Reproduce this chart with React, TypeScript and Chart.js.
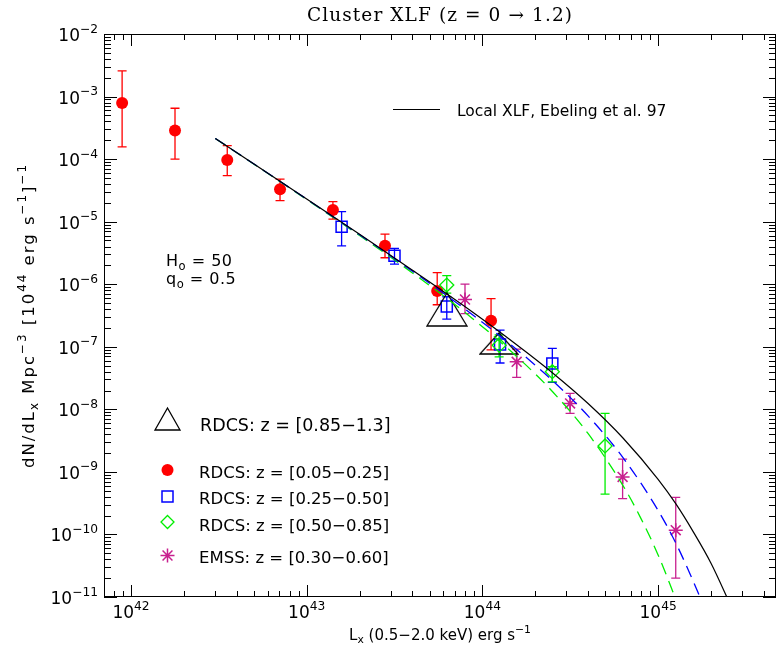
import React, { useEffect, useRef } from 'react';
import { Chart, registerables } from 'chart.js';

Chart.register(...registerables);

// ---------------- data ----------------
// RDCS z = [0.05-0.25]  (filled red circles)
const rdcsLowL = [8.9e41, 1.78e42, 3.53e42, 7.05e42, 1.41e43, 2.79e43, 5.53e43, 1.12e44];
const rdcsLowPhi = [7.9e-4, 2.86e-4, 9.7e-5, 3.3e-5, 1.54e-5, 4.13e-6, 7.8e-7, 2.6e-7];
const rdcsLowErrLo = [1.57e-4, 1.0e-4, 5.45e-5, 2.17e-5, 1.1e-5, 2.65e-6, 4.7e-7, 8.9e-8];
const rdcsLowErrHi = [2.58e-3, 6.5e-4, 1.64e-4, 4.8e-5, 2.09e-5, 6.3e-6, 1.53e-6, 5.9e-7];

// RDCS z = [0.25-0.50]  (open blue squares)
const rdcsMidL = [1.58e43, 3.16e43, 6.27e43, 1.26e44, 2.5e44];
const rdcsMidPhi = [8.3e-6, 2.86e-6, 4.4e-7, 1.09e-7, 5.4e-8];
const rdcsMidErrLo = [4.1e-6, 2.1e-6, 2.77e-7, 5.5e-8, 2.7e-8];
const rdcsMidErrHi = [1.45e-5, 3.75e-6, 6.3e-7, 1.85e-7, 9.4e-8];

// RDCS z = [0.50-0.85]  (open green diamonds)
const rdcsHighL = [6.27e43, 1.245e44, 2.5e44, 4.99e44];
const rdcsHighPhi = [9.7e-7, 1.06e-7, 4.0e-8, 2.6e-9];
const rdcsHighErrLo = [7.2e-7, 6.9e-8, 2.75e-8, 4.4e-10];
const rdcsHighErrHi = [1.37e-6, 1.55e-7, 4.8e-8, 8.6e-9];

// EMSS z = [0.30-0.60]  (magenta asterisks)
const emssL = [7.96e43, 1.567e44, 3.155e44, 6.28e44, 1.26e45];
const emssPhi = [5.7e-7, 5.75e-8, 1.24e-8, 8.3e-10, 1.17e-10];
const emssErrLo = [3.4e-7, 3.24e-8, 8.6e-9, 3.75e-10, 2.0e-11];
const emssErrHi = [1.0e-6, 9.2e-8, 1.8e-8, 1.6e-9, 3.9e-10];

// RDCS z = [0.85-1.3]  (open triangles)
const rdcsDistL = [6.28e43, 1.24e44];
const rdcsDistPhi = [3.95e-7, 1.13e-7];

// Local XLF, Ebeling et al. 97 (solid black)
const localL = [3.02e42, 5.01e42, 1e43, 2.0e43, 3.98e43, 7.94e43, 1.58e44, 2.51e44, 3.98e44, 6.31e44, 1e45, 1.26e45, 1.58e45, 2.0e45, 2.51e45, 2.63e45];
const localPhi = [2.14e-4, 8.34e-5, 2.31e-5, 6.31e-6, 1.69e-6, 4.4e-7, 1.06e-7, 3.82e-8, 1.25e-8, 3.48e-9, 7.6e-10, 3.1e-10, 1.12e-10, 3.47e-11, 8.85e-12, 6.6e-12];

// blue dashed model
const modelMidL = [3.02e42, 5.01e42, 1e43, 2.0e43, 3.98e43, 7.94e43, 1.58e44, 2.51e44, 3.98e44, 6.31e44, 1e45, 1.26e45, 1.58e45, 1.78e45];
const modelMidPhi = [2.14e-4, 8.34e-5, 2.29e-5, 6.18e-6, 1.63e-6, 4.03e-7, 8.87e-8, 2.87e-8, 7.92e-9, 1.69e-9, 2.42e-10, 7.33e-11, 1.82e-11, 8.3e-12];

// green dashed model
const modelHighL = [3.02e42, 5.01e42, 1e43, 2.0e43, 3.98e43, 7.94e43, 1.58e44, 2.51e44, 3.98e44, 6.31e44, 7.94e44, 1e45, 1.26e45];
const modelHighPhi = [2.14e-4, 8.3e-5, 2.26e-5, 6.01e-6, 1.53e-6, 3.55e-7, 6.87e-8, 1.91e-8, 4.15e-9, 6.05e-10, 1.86e-10, 4.71e-11, 9.3e-12];

// axis ticks (decade exponents)
const xDecades = [42, 43, 44, 45];
const yDecades = [-2, -3, -4, -5, -6, -7, -8, -9, -10, -11];

const titleText = 'Cluster XLF (z = 0 \u2192 1.2)';
const legendLabels = [
  'RDCS: z = [0.85\u22121.3]',
  'RDCS: z = [0.05\u22120.25]',
  'RDCS: z = [0.25\u22120.50]',
  'RDCS: z = [0.50\u22120.85]',
  'EMSS: z = [0.30\u22120.60]',
];
const localLabel = 'Local XLF, Ebeling et al. 97';

// ---------------- style ----------------
const RED = '#ff0000';
const BLUE = '#0000ff';
const GREEN = '#00ee00';
const MAGENTA = '#c8208f';
const SANS = '"DejaVu Sans", sans-serif';
const SERIF = '"DejaVu Serif", serif';

type Seg = { t: string; k?: 'sup' | 'sub' };

function drawRich(
  ctx: CanvasRenderingContext2D,
  segs: Seg[],
  x: number,
  y: number,
  size: number,
  family: string,
  align: 'left' | 'center' | 'right',
  ls = 0,
  color = '#000'
) {
  const small = size * 0.72;
  const anyCtx = ctx as any;
  const widths = segs.map((s) => {
    ctx.font = `${s.k ? small : size}px ${family}`;
    anyCtx.letterSpacing = ls + 'px';
    return ctx.measureText(s.t).width;
  });
  const total = widths.reduce((a, b) => a + b, 0);
  let cx = align === 'left' ? x : align === 'center' ? x - total / 2 : x - total;
  ctx.fillStyle = color;
  ctx.textAlign = 'left';
  ctx.textBaseline = 'alphabetic';
  segs.forEach((s, i) => {
    ctx.font = `${s.k ? small : size}px ${family}`;
    anyCtx.letterSpacing = ls + 'px';
    const dy = s.k === 'sup' ? -size * 0.5 : s.k === 'sub' ? size * 0.22 : 0;
    ctx.fillText(s.t, cx, y + dy);
    cx += widths[i];
  });
  anyCtx.letterSpacing = '0px';
}

function pts(xs: number[], ys: number[]) {
  return xs.map((x, i) => ({ x, y: ys[i] }));
}

function makeTriangle(w: number, h: number) {
  const c = document.createElement('canvas');
  c.width = w + 2;
  c.height = h + 2;
  const g = c.getContext('2d')!;
  g.strokeStyle = '#000';
  g.lineWidth = 1.3;
  g.beginPath();
  g.moveTo(1, h + 1);
  g.lineTo(w + 1, h + 1);
  g.lineTo(w / 2 + 1, 1);
  g.closePath();
  g.stroke();
  return c;
}

const errorSets: { L: number[]; lo: number[]; hi: number[]; color: string }[] = [
  { L: rdcsLowL, lo: rdcsLowErrLo, hi: rdcsLowErrHi, color: RED },
  { L: rdcsMidL, lo: rdcsMidErrLo, hi: rdcsMidErrHi, color: BLUE },
  { L: rdcsHighL, lo: rdcsHighErrLo, hi: rdcsHighErrHi, color: GREEN },
  { L: emssL, lo: emssErrLo, hi: emssErrHi, color: MAGENTA },
];

const errorBarPlugin = {
  id: 'errorBars',
  beforeDatasetsDraw(chart: any) {
    const { ctx } = chart;
    const xs = chart.scales.x;
    const ys = chart.scales.y;
    ctx.save();
    ctx.lineWidth = 1.3;
    errorSets.forEach((s) => {
      ctx.strokeStyle = s.color;
      s.L.forEach((L, i) => {
        const px = xs.getPixelForValue(L);
        const y1 = ys.getPixelForValue(s.lo[i]);
        const y2 = ys.getPixelForValue(s.hi[i]);
        ctx.beginPath();
        ctx.moveTo(px, y1);
        ctx.lineTo(px, y2);
        ctx.moveTo(px - 4.5, y1);
        ctx.lineTo(px + 4.5, y1);
        ctx.moveTo(px - 4.5, y2);
        ctx.lineTo(px + 4.5, y2);
        ctx.stroke();
      });
    });
    ctx.restore();
  },
};

const framePlugin = {
  id: 'frame',
  afterDraw(chart: any) {
    const { ctx, chartArea: a } = chart;
    const xs = chart.scales.x;
    const ys = chart.scales.y;
    ctx.save();
    ctx.strokeStyle = '#000';
    ctx.lineWidth = 1;
    ctx.strokeRect(a.left + 0.5, a.top + 0.5, a.right - a.left - 1, a.bottom - a.top - 1);

    // x ticks
    ctx.beginPath();
    for (let d = 41; d <= 45; d++) {
      for (let k = 1; k <= 9; k++) {
        const v = k * Math.pow(10, d);
        if (v < xs.min || v > xs.max) continue;
        const px = Math.round(xs.getPixelForValue(v)) + 0.5;
        const len = k === 1 ? 12 : 6;
        ctx.moveTo(px, a.bottom);
        ctx.lineTo(px, a.bottom - len);
        ctx.moveTo(px, a.top);
        ctx.lineTo(px, a.top + len);
      }
    }
    // y ticks
    for (let d = -12; d <= -2; d++) {
      for (let k = 1; k <= 9; k++) {
        const v = k * Math.pow(10, d);
        if (v < ys.min * 0.999 || v > ys.max * 1.001) continue;
        const py = Math.round(ys.getPixelForValue(v)) + 0.5;
        const len = k === 1 ? 13 : 7;
        ctx.moveTo(a.left, py);
        ctx.lineTo(a.left + len, py);
        ctx.moveTo(a.right, py);
        ctx.lineTo(a.right - len, py);
      }
    }
    ctx.stroke();

    // tick labels
    xDecades.forEach((d) => {
      const px = xs.getPixelForValue(Math.pow(10, d));
      drawRich(ctx, [{ t: '10' }, { t: String(d), k: 'sup' }], px, 618, 17, SANS, 'center');
    });
    yDecades.forEach((d) => {
      const py = ys.getPixelForValue(Math.pow(10, d));
      drawRich(ctx, [{ t: '10' }, { t: '\u2212' + String(-d), k: 'sup' }], 98, py + 7, 17, SANS, 'right');
    });

    // title
    drawRich(ctx, [{ t: titleText }], (a.left + a.right) / 2, 21, 18.5, SERIF, 'center', 1.1);

    // x title
    drawRich(
      ctx,
      [{ t: 'L' }, { t: 'x', k: 'sub' }, { t: ' (0.5\u22122.0 keV) erg s' }, { t: '\u22121', k: 'sup' }],
      (a.left + a.right) / 2,
      640,
      15,
      SANS,
      'center'
    );

    // y title (rotated)
    ctx.save();
    ctx.translate(34, (a.top + a.bottom) / 2);
    ctx.rotate(-Math.PI / 2);
    drawRich(
      ctx,
      [
        { t: 'dN/dL' },
        { t: 'x', k: 'sub' },
        { t: ' Mpc' },
        { t: '\u22123', k: 'sup' },
        { t: ' [10' },
        { t: '44', k: 'sup' },
        { t: ' erg s' },
        { t: '\u22121', k: 'sup' },
        { t: ']' },
        { t: '\u22121', k: 'sup' },
      ],
      0,
      0,
      16.5,
      SANS,
      'center',
      2
    );
    ctx.restore();

    // H0, q0
    drawRich(ctx, [{ t: 'H' }, { t: 'o', k: 'sub' }, { t: ' = 50' }], 166, 266, 16, SANS, 'left', 0.5);
    drawRich(ctx, [{ t: 'q' }, { t: 'o', k: 'sub' }, { t: ' = 0.5' }], 166, 284, 16, SANS, 'left', 0.5);

    // top-right legend
    ctx.strokeStyle = '#000';
    ctx.lineWidth = 1.2;
    ctx.beginPath();
    ctx.moveTo(393, 109.5);
    ctx.lineTo(440, 109.5);
    ctx.stroke();
    drawRich(ctx, [{ t: localLabel }], 457, 116, 15.5, SANS, 'left');

    // lower-left legend
    ctx.lineWidth = 1.3;
    ctx.strokeStyle = '#000';
    ctx.beginPath();
    ctx.moveTo(155, 430);
    ctx.lineTo(180, 430);
    ctx.lineTo(167.5, 408);
    ctx.closePath();
    ctx.stroke();
    drawRich(ctx, [{ t: legendLabels[0] }], 200, 431, 17.5, SANS, 'left');

    ctx.fillStyle = RED;
    ctx.beginPath();
    ctx.arc(167.5, 470, 6, 0, Math.PI * 2);
    ctx.fill();
    drawRich(ctx, [{ t: legendLabels[1] }], 199, 477.5, 16.5, SANS, 'left');

    ctx.strokeStyle = BLUE;
    ctx.lineWidth = 1.5;
    ctx.strokeRect(162, 491, 11, 11);
    drawRich(ctx, [{ t: legendLabels[2] }], 199, 504, 16.5, SANS, 'left');

    ctx.strokeStyle = GREEN;
    ctx.lineWidth = 1.3;
    ctx.beginPath();
    ctx.moveTo(167.5, 515.5);
    ctx.lineTo(174, 522);
    ctx.lineTo(167.5, 528.5);
    ctx.lineTo(161, 522);
    ctx.closePath();
    ctx.stroke();
    drawRich(ctx, [{ t: legendLabels[3] }], 199, 531, 16.5, SANS, 'left');

    ctx.strokeStyle = MAGENTA;
    ctx.lineWidth = 1.5;
    ctx.beginPath();
    const sx = 167.5;
    const sy = 555.5;
    const r = 7;
    for (let i = 0; i < 4; i++) {
      const ang = (i * Math.PI) / 4;
      ctx.moveTo(sx + Math.cos(ang) * r, sy + Math.sin(ang) * r);
      ctx.lineTo(sx - Math.cos(ang) * r, sy - Math.sin(ang) * r);
    }
    ctx.stroke();
    drawRich(ctx, [{ t: legendLabels[4] }], 199, 562.5, 16.5, SANS, 'left');

    ctx.restore();
  },
};

export default function App() {
  const ref = useRef<HTMLCanvasElement | null>(null);

  useEffect(() => {
    if (!ref.current) return;
    const tri1 = makeTriangle(40, 33);
    const tri2 = makeTriangle(38, 21);
    const chart = new Chart(ref.current, {
      type: 'scatter',
      data: {
        datasets: [
          {
            label: 'Local XLF, Ebeling et al. 97',
            data: pts(localL, localPhi),
            showLine: true,
            borderColor: '#000',
            borderWidth: 1.2,
            pointRadius: 0,
            cubicInterpolationMode: 'monotone',
          },
          {
            label: 'model z=0.25-0.50',
            data: pts(modelMidL, modelMidPhi),
            showLine: true,
            borderColor: BLUE,
            borderWidth: 1.3,
            borderDash: [12, 7],
            pointRadius: 0,
            cubicInterpolationMode: 'monotone',
          },
          {
            label: 'model z=0.50-0.85',
            data: pts(modelHighL, modelHighPhi),
            showLine: true,
            borderColor: GREEN,
            borderWidth: 1.3,
            borderDash: [12, 7],
            pointRadius: 0,
            cubicInterpolationMode: 'monotone',
          },
          {
            label: 'RDCS: z = [0.85-1.3]',
            data: pts(rdcsDistL, rdcsDistPhi),
            pointStyle: [tri1, tri2] as any,
            pointRadius: 5,
            showLine: false,
          },
          {
            label: 'EMSS: z = [0.30-0.60]',
            data: pts(emssL, emssPhi),
            pointStyle: 'star',
            pointRadius: 7,
            borderColor: MAGENTA,
            backgroundColor: MAGENTA,
            borderWidth: 1.6,
            showLine: false,
          },
          {
            label: 'RDCS: z = [0.50-0.85]',
            data: pts(rdcsHighL, rdcsHighPhi),
            pointStyle: 'rectRot',
            pointRadius: 7,
            borderColor: GREEN,
            backgroundColor: 'rgba(0,0,0,0)',
            borderWidth: 1.3,
            showLine: false,
          },
          {
            label: 'RDCS: z = [0.25-0.50]',
            data: pts(rdcsMidL, rdcsMidPhi),
            pointStyle: 'rect',
            pointRadius: 7.8,
            borderColor: BLUE,
            backgroundColor: 'rgba(0,0,0,0)',
            borderWidth: 1.5,
            showLine: false,
          },
          {
            label: 'RDCS: z = [0.05-0.25]',
            data: pts(rdcsLowL, rdcsLowPhi),
            pointStyle: 'circle',
            pointRadius: 6,
            borderColor: RED,
            backgroundColor: RED,
            borderWidth: 0,
            showLine: false,
          },
        ],
      },
      options: {
        animation: false,
        responsive: false,
        events: [],
        layout: { autoPadding: false, padding: { left: 104, right: 1, top: 34, bottom: 49 } },
        plugins: {
          legend: { display: false },
          tooltip: { enabled: false },
          title: { display: false },
        },
        scales: {
          x: {
            type: 'logarithmic',
            display: false,
            min: Math.pow(10, 41.8463),
            max: Math.pow(10, 45.671),
          },
          y: {
            type: 'logarithmic',
            display: false,
            min: 1e-11,
            max: 1e-2,
          },
        },
      },
      plugins: [errorBarPlugin, framePlugin],
    });
    return () => chart.destroy();
  }, []);

  return (
    <div style={{ position: 'absolute', left: 0, top: 0, width: 777, height: 646, background: '#fff' }}>
      <canvas ref={ref} width={777} height={646} style={{ display: 'block', width: 777, height: 646 }} />
    </div>
  );
}
